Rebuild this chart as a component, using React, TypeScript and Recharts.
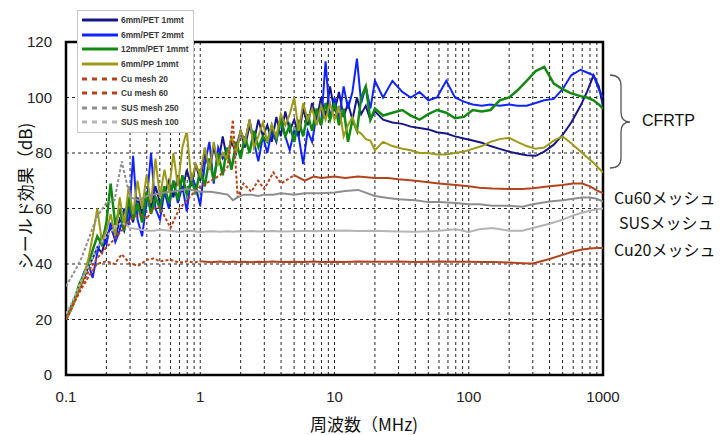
import { LineChart, Line, XAxis, YAxis, CartesianGrid, ReferenceArea } from "recharts"

// frequency grid (MHz) for the CFRTP sweeps: dense below 20 MHz where they ring
const freqFine = [
  0.1, 0.108, 0.117, 0.126, 0.136, 0.147, 0.158, 0.171, 0.185, 0.2,
  0.215, 0.233, 0.251, 0.271, 0.293, 0.316, 0.341, 0.369, 0.398, 0.43,
  0.464, 0.501, 0.541, 0.584, 0.631, 0.681, 0.736, 0.794, 0.858, 0.926,
  1, 1.08, 1.17, 1.26, 1.36, 1.47, 1.58, 1.71, 1.85, 2,
  2.15, 2.33, 2.51, 2.71, 2.93, 3.16, 3.41, 3.69, 3.98, 4.3,
  4.64, 5.01, 5.41, 5.84, 6.31, 6.81, 7.36, 7.94, 8.58, 9.26,
  10, 10.8, 11.7, 12.6, 13.6, 14.7, 15.8, 17.1, 18.5, 20,
  23, 27, 32, 37, 43, 50, 58, 68, 79, 92,
  107, 125, 145, 170, 200, 230, 270, 315, 365, 430,
  500, 580, 680, 760, 850, 930, 1000,
]

// 6mm/PET 1mmt
const pet1Values = [
  20, 23, 27, 31, 35, 39, 42, 46, 44, 50,
  53, 49, 56, 52, 60, 55, 64, 58, 66, 60,
  68, 62, 65, 70, 64, 72, 66, 74, 68, 76,
  70, 80, 74, 82, 76, 86, 78, 84, 80, 88,
  82, 90, 84, 92, 86, 90, 84, 93, 86, 95,
  88, 92, 86, 96, 90, 98, 92, 100, 93, 104,
  95, 102, 93, 98, 92, 100, 94, 97, 92, 95,
  92, 91, 90.5, 89.5, 89, 88.5, 87.5, 87, 86, 85.2,
  84.5, 83.7, 82.5, 81.5, 80.5, 79.8, 79.2, 79, 80.5, 83,
  86.5, 91, 97, 102, 108, 104, 97,
]

// 6mm/PET 2mmt
const pet2Values = [
  20, 24, 28, 32, 37, 40, 35, 44, 50, 47,
  55, 48, 52, 60, 54, 79, 56, 50, 62, 80,
  60, 56, 66, 60, 70, 62, 68, 59, 72, 68,
  61, 76, 84, 69, 82, 78, 80, 75, 82, 88,
  84, 92, 84, 77, 86, 80, 88, 84, 93, 86,
  81, 88, 86, 76, 88, 84, 94, 90, 113, 92,
  100, 92, 104, 96, 102, 114, 98, 104, 96, 106,
  100, 106, 102, 100, 102, 99, 100, 106, 100, 98.5,
  97.5, 97, 97.5, 97, 97.5, 97, 97, 98, 99, 99.5,
  103, 108, 110, 109, 108, 103, 100,
]

// 12mm/PET 1mmt
const pet12Values = [
  20, 24, 28, 33, 36, 40, 45, 50, 47, 55,
  69, 54, 60, 52, 64, 56, 62, 55, 66, 58,
  64, 60, 68, 62, 70, 63, 72, 65, 70, 66,
  74, 68, 78, 70, 80, 72, 82, 74, 84, 78,
  86, 80, 88, 82, 86, 84, 90, 85, 92, 86,
  90, 84, 92, 86, 94, 88, 96, 90, 98, 92,
  98, 90, 96, 84, 92, 88, 100, 104, 92, 96,
  93.5, 94.5, 95.5, 93.5, 92, 94, 95.5, 94.5, 92.5, 93,
  95.5, 95, 95.5, 99, 100, 102.5, 106, 109.5, 111, 105,
  103, 101.5, 100.5, 100, 99, 97.5, 96,
]

// 6mm/PP 1mmt
const ppValues = [
  20, 23, 27, 31, 36, 42, 50, 60, 48, 52,
  58, 50, 64, 54, 68, 58, 70, 60, 72, 62,
  78, 64, 74, 66, 80, 68, 82, 88, 70, 76,
  72, 82, 74, 84, 76, 80, 78, 86, 80, 88,
  84, 92, 82, 86, 91, 84, 90, 86, 94, 90,
  94, 100, 88, 98, 92, 96, 90, 97, 92, 98,
  92, 97, 86, 90, 93, 88, 87, 85, 84.5, 81,
  84, 82.5, 81.5, 81, 80, 80, 79.5, 79.5, 80, 80.5,
  81.5, 82.5, 84, 85, 85.5, 84, 82.5, 81.5, 82, 84.5,
  86, 83.5, 80.5, 78.5, 76.5, 74.5, 73,
]

// frequency grid (MHz) for the mesh references
const freqMesh = [
  0.1, 0.115, 0.13, 0.15, 0.17, 0.2, 0.23, 0.26, 0.3, 0.35, 0.4, 0.45, 0.5, 0.6, 0.7, 0.8, 0.9,
  1, 1.2, 1.4, 1.6, 1.75, 1.9, 2.1, 2.4, 2.7, 3, 3.5, 4, 5, 6, 7, 8,
  10, 12, 15, 20, 25, 30, 40, 50, 60, 80,
  100, 120, 150, 200, 250, 300, 400, 500, 600, 700, 800, 900, 1000,
]

const cu20Values = [
  20, 26, 31, 36, 40, 41, 40, 43.5, 40, 39.5, 41.5, 42, 41, 41.5, 40.5, 41, 40.5,
  41, 40.6, 40.9, 40.6, 40.9, 40.6, 40.8, 40.6, 40.8, 40.7, 40.9, 40.7, 40.8, 40.7, 40.9, 40.7,
  40.8, 40.7, 40.9, 40.8, 40.8, 40.9, 40.7, 40.8, 40.9, 40.8,
  40.8, 40.7, 40.7, 40.5, 40.3, 40.2, 41.8, 43.3, 44.5, 45.2, 45.6, 45.8, 45.8,
]

const cu60Values = [
  20, 27, 32, 38, 42, 46, 49, 52, 56, 58, 56.5, 60, 60.5, 53, 60, 63, 66,
  68, 70, 72, 75, 92, 64, 69, 66, 70, 67, 73, 69, 72, 70, 71.5, 71,
  71.5, 71, 71.5, 71, 71, 70.5, 70, 69.5, 69, 68.5,
  68, 67.5, 67.2, 67, 67, 67.3, 68, 68.5, 69, 69, 68, 66.5, 65.5,
]

const sus250Values = [
  32, 37, 42, 50, 57, 62, 63, 77, 64, 63, 64.5, 65, 65.5, 66, 66.5, 67, 66.5,
  66, 66, 65.5, 65, 63, 64, 65, 65, 64.5, 65, 65, 65.5, 65, 65.5, 65.5, 65.5,
  65.8, 66.3, 66.7, 64.5, 63.8, 63.3, 63, 62.3, 62.3, 62,
  61.5, 61.5, 61, 61, 60.6, 61.5, 62.5, 63, 63.5, 64, 64, 63.5, 62.5,
]

const sus100Values = [
  22, 28, 34, 40, 46, 50, 53, 55, 53, 52.5, 52, 52, 52.3, 52, 51.5, 52, 51.8,
  51.5, 51.8, 51.6, 51.8, 51.6, 51.8, 51.7, 51.9, 51.7, 51.8, 51.9, 51.7, 51.8, 52, 51.8, 51.9,
  52, 52.1, 51.9, 52, 51.8, 51.7, 51.6, 51.8, 52, 52.5,
  51.5, 52.5, 53, 52, 52, 53, 54.5, 56, 57.5, 58.5, 59.2, 59.7, 60,
]

const X_TICKS = [
  0.1, 0.2, 0.3, 0.4, 0.5, 0.6, 0.7, 0.8, 0.9,
  1, 2, 3, 4, 5, 6, 7, 8, 9,
  10, 20, 30, 40, 50, 60, 70, 80, 90,
  100, 200, 300, 400, 500, 600, 700, 800, 900, 1000,
]
const X_LABELED = [0.1, 1, 10, 100, 1000]
const Y_TICKS = [0, 20, 40, 60, 80, 100, 120]

// dashUntil: the mesh sweeps look dotted at the low end (sparse samples), solid after
const SERIES = [
  { name: "6mm/PET 1mmt", color: "#16168a", width: 2, dashed: false, dashUntil: 0, freqs: freqFine, values: pet1Values },
  { name: "6mm/PET 2mmt", color: "#1024ff", width: 2, dashed: false, dashUntil: 0, freqs: freqFine, values: pet2Values },
  { name: "12mm/PET 1mmt", color: "#128a12", width: 2.5, dashed: false, dashUntil: 0, freqs: freqFine, values: pet12Values },
  { name: "6mm/PP 1mmt", color: "#9c9a18", width: 2, dashed: false, dashUntil: 0, freqs: freqFine, values: ppValues },
  { name: "Cu mesh 20", color: "#b4441c", width: 2, dashed: true, dashUntil: 1, freqs: freqMesh, values: cu20Values },
  { name: "Cu mesh 60", color: "#b4441c", width: 2, dashed: true, dashUntil: 5, freqs: freqMesh, values: cu60Values },
  { name: "SUS mesh 250", color: "#8e8e8e", width: 2, dashed: true, dashUntil: 0.3, freqs: freqMesh, values: sus250Values },
  { name: "SUS mesh 100", color: "#b4b4b4", width: 2, dashed: true, dashUntil: 0.3, freqs: freqMesh, values: sus100Values },
]

const LATIN = '"Liberation Sans", Arial, sans-serif'
const CJK = '"Noto Sans CJK JP", "Liberation Sans", sans-serif'

function toPoints(freqs: number[], values: number[]) {
  return freqs.map((f, i) => ({ f, v: values[i] }))
}

function Legend() {
  return (
    <div
      style={{
        position: "absolute",
        left: 77,
        top: 10,
        width: 117,
        padding: "2px 0",
        background: "#fff",
        border: "1px solid #c8c8c8",
        boxSizing: "border-box",
      }}
    >
      {SERIES.map((s) => (
        <div key={s.name} style={{ display: "flex", alignItems: "center", height: 14.6 }}>
          <svg width={43} height={8} style={{ flexShrink: 0 }}>
            <line
              x1={4}
              x2={40}
              y1={4}
              y2={4}
              stroke={s.color}
              strokeWidth={3}
              strokeDasharray={s.dashed ? "5 5" : undefined}
            />
          </svg>
          <span style={{ fontFamily: LATIN, fontSize: 8.4, fontWeight: 700, color: "#3a3a3a", whiteSpace: "nowrap" }}>
            {s.name}
          </span>
        </div>
      ))}
    </div>
  )
}

export default function App() {
  const lines = []
  for (const s of SERIES) {
    const pts = toPoints(s.freqs, s.values)
    if (s.dashUntil > 0) {
      const low = pts.filter((p) => p.f <= s.dashUntil)
      const high = pts.filter((p) => p.f >= s.dashUntil)
      lines.push({ key: s.name + "-low", s, data: low, dash: "3 2" })
      lines.push({ key: s.name, s, data: high, dash: undefined })
    } else {
      lines.push({ key: s.name, s, data: pts, dash: undefined })
    }
  }

  return (
    <div style={{ position: "relative", width: 720, height: 435, background: "#fff", overflow: "hidden" }}>
      <style>{"body{margin:0}"}</style>
      <LineChart width={720} height={435} margin={{ top: 42, right: 117, bottom: 0, left: 0 }}>
        <CartesianGrid stroke="#222" strokeWidth={1} strokeDasharray="3 3" />
        <XAxis
          dataKey="f"
          type="number"
          scale="log"
          domain={[0.1, 1000]}
          ticks={X_TICKS}
          interval={0}
          allowDataOverflow
          height={60}
          axisLine={false}
          tickLine={false}
          tickMargin={10}
          tick={{ fontSize: 15, fill: "#222", fontFamily: LATIN }}
          tickFormatter={(v: number) => (X_LABELED.includes(v) ? String(v) : "")}
        />
        <YAxis
          type="number"
          domain={[0, 120]}
          ticks={Y_TICKS}
          width={66}
          axisLine={false}
          tickLine={false}
          tickMargin={8}
          tick={{ fontSize: 15, fill: "#222", fontFamily: LATIN }}
        />
        {lines.map((l) => (
          <Line
            key={l.key}
            name={l.key}
            data={l.data}
            dataKey="v"
            type="linear"
            stroke={l.s.color}
            strokeWidth={l.s.width}
            strokeDasharray={l.dash}
            dot={false}
            activeDot={false}
            isAnimationActive={false}
          />
        ))}
        <ReferenceArea x1={0.1} x2={1000} y1={0} y2={120} fill="none" fillOpacity={0} stroke="#000" strokeWidth={2.5} />
      </LineChart>

      <Legend />

      <div
        style={{
          position: "absolute",
          left: 24,
          top: 196,
          transform: "translate(-50%, -50%) rotate(-90deg)",
          fontFamily: CJK,
          fontSize: 17,
          color: "#111",
          whiteSpace: "nowrap",
        }}
      >
        シールド効果（dB)
      </div>
      <div
        style={{
          position: "absolute",
          left: 364,
          top: 423,
          transform: "translate(-50%, -50%)",
          fontFamily: CJK,
          fontSize: 17,
          color: "#111",
          whiteSpace: "nowrap",
        }}
      >
        周波数（MHz)
      </div>

      {/* brace grouping the CFRTP curves */}
      <svg width={40} height={110} style={{ position: "absolute", left: 600, top: 68 }}>
        <path
          d="M10,7 Q21,7 21,18 L21,44 Q21,54 30,54 Q21,54 21,64 L21,90 Q21,100 10,100"
          fill="none"
          stroke="#555"
          strokeWidth={1.3}
        />
      </svg>
      <div style={{ position: "absolute", left: 642, top: 121, transform: "translateY(-50%)", fontFamily: LATIN, fontSize: 16, color: "#111" }}>
        CFRTP
      </div>
      <div style={{ position: "absolute", left: 614, top: 197, transform: "translateY(-50%)", fontFamily: CJK, fontSize: 16, color: "#111", whiteSpace: "nowrap" }}>
        Cu60メッシュ
      </div>
      <div style={{ position: "absolute", left: 619, top: 222, transform: "translateY(-50%)", fontFamily: CJK, fontSize: 16, color: "#111", whiteSpace: "nowrap" }}>
        SUSメッシュ
      </div>
      <div style={{ position: "absolute", left: 614, top: 249, transform: "translateY(-50%)", fontFamily: CJK, fontSize: 16, color: "#111", whiteSpace: "nowrap" }}>
        Cu20メッシュ
      </div>
    </div>
  )
}
